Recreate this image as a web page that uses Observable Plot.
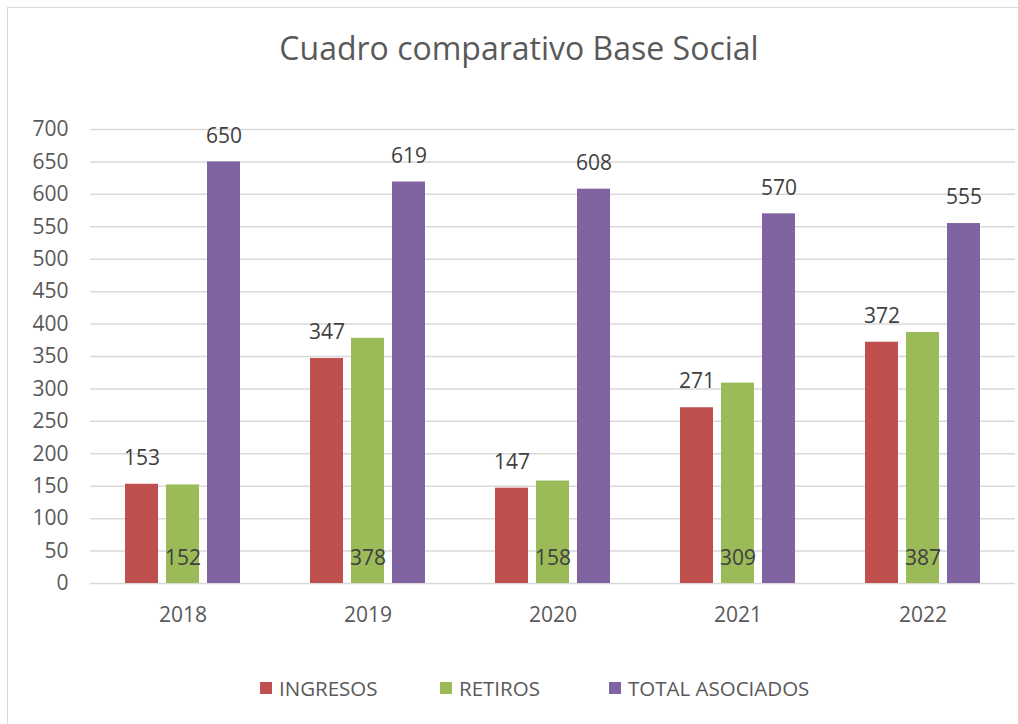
<!DOCTYPE html>
<html>
<head>
<meta charset="utf-8">
<script src="https://cdn.jsdelivr.net/npm/d3@7"></script>
<script src="https://cdn.jsdelivr.net/npm/@observablehq/plot@0.6"></script>
<style>
  html, body { margin: 0; padding: 0; background: #fff; width: 1018px; height: 724px; overflow: hidden; }
  body { position: relative; font-family: "Open Sans", sans-serif; color: #595959; }
  #frame { position: absolute; left: 7px; top: 7px; width: 1100px; height: 800px; border-left: 1.5px solid #d9d9d9; border-top: 1.5px solid #d9d9d9; }
  #title { position: absolute; left: 0; width: 1038px; top: 28px; text-align: center; font-size: 32px; line-height: 40px; color: #595959; }
  #chart { position: absolute; left: 0; top: 100px; }
  #legend { position: absolute; top: 674px; left: 0; width: 1018px; height: 28px; font-size: 20.5px; line-height: 28px; color: #595959; }
  .item { position: absolute; top: 0; display: flex; align-items: center; white-space: nowrap; }
  .sw { width: 12px; height: 12px; margin-right: 7px; }
</style>
</head>
<body>
<div id="frame"></div>
<div id="title">Cuadro comparativo Base Social</div>
<div id="chart"></div>
<div id="legend"></div>
<script>
const years = ["2018", "2019", "2020", "2021", "2022"];
const series = ["INGRESOS", "RETIROS", "TOTAL ASOCIADOS"];
const ingresos = [153, 347, 147, 271, 372];
const retiros = [152, 378, 158, 309, 387];
const totalAsociados = [650, 619, 608, 570, 555];
const colors = ["#C0504D", "#9BBB59", "#8064A2"];
const yTicks = [0, 50, 100, 150, 200, 250, 300, 350, 400, 450, 500, 550, 600, 650, 700];

const valuesBySeries = [ingresos, retiros, totalAsociados];
const data = [];
years.forEach((yr, i) => {
  series.forEach((s, j) => data.push({year: yr, series: s, value: valuesBySeries[j][i]}));
});

const chart = Plot.plot({
  width: 1018,
  height: 540,
  marginLeft: 89,
  marginRight: 3,
  marginTop: 29,
  marginBottom: 57,
  style: {fontFamily: "Open Sans, sans-serif", fontSize: "20px", color: "#595959", background: "transparent"},
  fx: {domain: years, paddingInner: 0, paddingOuter: 0, label: null},
  x: {domain: series, paddingInner: 0.205, paddingOuter: 0.834, axis: null},
  y: {domain: [0, 700], label: null},
  color: {domain: series, range: colors},
  marks: [
    Plot.gridY(yTicks, {stroke: "#d9d9d9", strokeOpacity: 1, strokeWidth: 1.5}),
    Plot.axisY(yTicks, {tickSize: 0, tickPadding: 22, label: null, fontSize: 21, fill: "#595959"}),
    Plot.axisFx({anchor: "bottom", tickSize: 0, tickPadding: 24, label: null, fontSize: 21, fill: "#595959"}),
    Plot.barY(data, {fx: "year", x: "series", y: "value", fill: "series"}),
    Plot.text(data.filter(d => d.series !== "RETIROS"), {fx: "year", x: "series", y: "value", text: d => String(d.value), dy: -26, lineAnchor: "middle", fill: "#404040", fontSize: 21}),
    Plot.text(data.filter(d => d.series === "RETIROS"), {fx: "year", x: "series", y: 0, text: d => String(d.value), dy: -25, lineAnchor: "middle", fill: "#404040", fontSize: 21})
  ]
});
document.getElementById("chart").appendChild(chart);

const legend = document.getElementById("legend");
const legendLeft = [260, 440, 609];
series.forEach((s, i) => {
  const item = document.createElement("div");
  item.className = "item";
  item.style.left = legendLeft[i] + "px";
  const sw = document.createElement("div");
  sw.className = "sw";
  sw.style.background = colors[i];
  const t = document.createElement("span");
  t.textContent = s;
  item.appendChild(sw);
  item.appendChild(t);
  legend.appendChild(item);
});
</script>
</body>
</html>
